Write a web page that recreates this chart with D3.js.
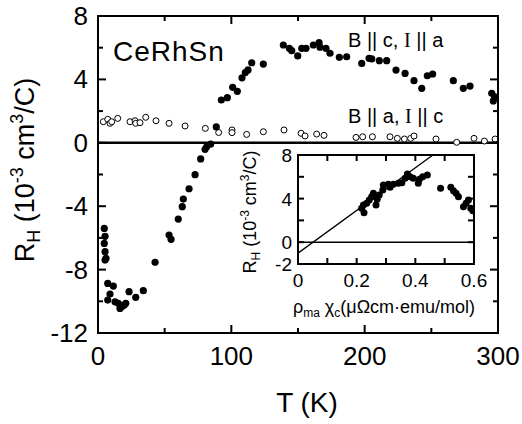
<!DOCTYPE html>
<html>
<head>
<meta charset="utf-8">
<script src="https://cdn.jsdelivr.net/npm/d3@7"></script>
<style>
body { margin: 0; background: #fff; }
text { font-family: "Liberation Sans", Arial, sans-serif; fill: #000; }
</style>
</head>
<body>
<div class="grafico"></div>
<script>
// datos: T (K), R_H (10^-3 cm^3/C)
var bParalelC = [
  [4.7,-5.4],[5.3,-5.9],[4.7,-6.35],[5.3,-6.87],[6,-7.29],[5.3,-7.4],[7.3,-8.87],[11.5,-9.04],
  [9,-9.54],[7.3,-9.92],[12.8,-10.03],[15.2,-10.13],[16.5,-10.45],[17.8,-10.34],[19.7,-10.24],
  [20.8,-10.13],[23.3,-9.39],[28.3,-9.75],[34,-9.33],[42.8,-7.54],[53.3,-5.82],[54.8,-6.09],
  [60.2,-4.81],[63.2,-4.03],[64,-3.55],[68.3,-2.9],[72.8,-2.01],[77,-1.02],[80.3,-0.41],
  [81.5,-0.25],[84.5,-0.08],[88.7,1.0],[92.5,2.7],[97,2.85],[101,3.5],[104.5,3.25],[108,4.1],
  [110.5,4.43],[112.5,4.6],[115.3,5.05],[124,4.97],[139,6.17],[143.5,5.96],[145.3,5.81],
  [149.8,5.48],[152.8,5.96],[156,5.96],[161.5,6.17],[165.8,6.32],[166.5,6.03],[171,5.96],
  [174,5.65],[181,5.39],[186.5,5.43],[197.8,5.01],[203.3,5.33],[205.3,5.29],[211,5.18],
  [216.5,5.18],[223.5,4.59],[230.3,4.38],[237,3.92],[242.8,3.44],[247,4.23],[251,4.34],
  [266.5,3.92],[274,3.44],[279,3.58],[295.3,3.12],[296.5,2.64],[297.5,2.9]
];
var bParalelA = [
  [4,1.33],[7.3,1.48],[9,1.23],[10.3,1.33],[14.8,1.54],[24,1.33],[27.8,1.39],[28.3,1.23],
  [31.5,1.27],[35.8,1.61],[43.5,1.39],[53.3,1.23],[65.3,1.06],[80.5,0.91],[90.5,0.65],
  [100.5,0.81],[100.5,0.64],[111.5,0.53],[124,0.7],[139.5,0.81],[152.3,0.6],[155.3,0.43],
  [164,0.55],[169.5,0.47],[193.5,0.34],[198.5,0.38],[205.8,0.38],[219,0.38],[224.5,0.28],
  [229.8,0.24],[234.5,0.28],[237,0.43],[253.5,0.24],[269,0.03],[282,0.28],[289.8,0.11],[297.8,0.24]
];
// inset: rho_ma * chi_c vs R_H
var inset = [
  [0.217,3.11],[0.223,3.41],[0.225,2.71],[0.234,3.57],[0.243,3.87],[0.251,4.18],[0.257,4.49],
  [0.266,3.41],[0.270,3.93],[0.277,4.33],[0.289,4.79],[0.291,5.25],[0.308,5.31],[0.314,5.04],
  [0.325,5.31],[0.342,5.40],[0.354,5.46],[0.365,5.86],[0.373,6.26],[0.382,6.01],[0.393,5.86],
  [0.410,5.40],[0.414,5.77],[0.425,6.01],[0.441,6.17],[0.486,4.94],[0.521,5.04],[0.530,4.73],
  [0.539,4.49],[0.547,4.18],[0.564,3.26],[0.573,3.57],[0.581,3.87],[0.589,3.11],[0.596,2.89]
];
var ajuste = [[0,-1.0],[0.46,8]];

var xTicks = [0,100,200,300], xMinor = [50,150,250];
var yTicks = [-12,-8,-4,0,4,8], yMinor = [-10,-6,-2,2,6];
var ixTicks = [0,0.2,0.4,0.6], ixMinor = [0.1,0.3,0.5];
var iyLabels = [-2,0,4,8], iyTicks = [0,4,8], iyMinor = [2,6];

var w = 522, h = 424;
var svg = d3.select(".grafico")
  .append("svg")
  .attr("width", w)
  .attr("height", h)
  .style("background","#fff");

var x = d3.scaleLinear().domain([0,300]).range([98,498]);
var y = d3.scaleLinear().domain([-12,8]).range([333,16]);

function ejes(g, sx, sy, mayX, menX, mayY, menY, largo, corto) {
  var x0 = sx.range()[0], x1 = sx.range()[1], y0 = sy.range()[0], y1 = sy.range()[1];
  mayX.forEach(function(v){
    g.append("line").attr("x1",sx(v)).attr("x2",sx(v)).attr("y1",y0).attr("y2",y0-largo);
    g.append("line").attr("x1",sx(v)).attr("x2",sx(v)).attr("y1",y1).attr("y2",y1+largo);
  });
  menX.forEach(function(v){
    g.append("line").attr("x1",sx(v)).attr("x2",sx(v)).attr("y1",y0).attr("y2",y0-corto);
    g.append("line").attr("x1",sx(v)).attr("x2",sx(v)).attr("y1",y1).attr("y2",y1+corto);
  });
  mayY.forEach(function(v){
    g.append("line").attr("y1",sy(v)).attr("y2",sy(v)).attr("x1",x0).attr("x2",x0+largo);
    g.append("line").attr("y1",sy(v)).attr("y2",sy(v)).attr("x1",x1).attr("x2",x1-largo);
  });
  menY.forEach(function(v){
    g.append("line").attr("y1",sy(v)).attr("y2",sy(v)).attr("x1",x0).attr("x2",x0+corto);
    g.append("line").attr("y1",sy(v)).attr("y2",sy(v)).attr("x1",x1).attr("x2",x1-corto);
  });
  g.selectAll("line").attr("stroke","#000").attr("stroke-width",2);
  g.append("rect")
    .attr("x",x0).attr("y",y1).attr("width",x1-x0).attr("height",y0-y1)
    .attr("fill","none").attr("stroke","#000").attr("stroke-width",2);
}

// grafico principal
var gm = svg.append("g");
gm.append("line")
  .attr("x1",x(0)).attr("x2",x(300)).attr("y1",y(0)).attr("y2",y(0))
  .attr("stroke","#000").attr("stroke-width",2.5);
gm.selectAll("circle.abierto")
  .data(bParalelA).enter().append("circle")
  .attr("class","abierto")
  .attr("cx", function(d){ return x(d[0]); })
  .attr("cy", function(d){ return y(d[1]); })
  .attr("r", 3)
  .attr("fill","#fff").attr("stroke","#000").attr("stroke-width",1);
gm.selectAll("circle.lleno")
  .data(bParalelC).enter().append("circle")
  .attr("class","lleno")
  .attr("cx", function(d){ return x(d[0]); })
  .attr("cy", function(d){ return y(d[1]); })
  .attr("r", 3.6)
  .attr("fill","#000");
ejes(gm.append("g"), x, y, xTicks, xMinor, yTicks, yMinor, 8, 5);

svg.append("g").selectAll("text")
  .data(xTicks).enter().append("text")
  .attr("x", function(d){ return x(d); })
  .attr("y", 365)
  .attr("text-anchor","middle")
  .attr("font-size", 26)
  .text(function(d){ return d; });
svg.append("g").selectAll("text")
  .data(yTicks).enter().append("text")
  .attr("x", 88)
  .attr("y", function(d){ return y(d) + 9; })
  .attr("text-anchor","end")
  .attr("font-size", 26)
  .text(function(d){ return d; });

svg.append("text")
  .attr("x", 307).attr("y", 412)
  .attr("text-anchor","middle")
  .attr("font-size", 28)
  .text("T (K)");

var yl = svg.append("text")
  .attr("transform","translate(34,170) rotate(-90)")
  .attr("text-anchor","middle")
  .attr("font-size", 27);
yl.append("tspan").text("R");
yl.append("tspan").attr("dy",6).attr("font-size",18).text("H");
yl.append("tspan").attr("dy",-6).text(" (10");
yl.append("tspan").attr("dy",-11).attr("font-size",18).text("-3");
yl.append("tspan").attr("dy",11).text(" cm");
yl.append("tspan").attr("dy",-11).attr("font-size",18).text("3");
yl.append("tspan").attr("dy",11).text("/C)");

svg.append("text")
  .attr("x",113).attr("y",61)
  .attr("font-size",28)
  .attr("letter-spacing",1)
  .text("CeRhSn");

function leyenda(yy, a, b) {
  var t = svg.append("text").attr("x",348).attr("y",yy).attr("font-size",20);
  t.append("tspan").text("B || " + a + ", ");
  t.append("tspan").attr("font-family","Liberation Serif").text("I");
  t.append("tspan").text(" || " + b);
}
leyenda(47, "c", "a");
leyenda(123, "a", "c");

// inset
var ix = d3.scaleLinear().domain([0,0.6]).range([298,474]);
var iy = d3.scaleLinear().domain([-2,8]).range([264,155]);

var gi = svg.append("g");
gi.append("rect")
  .attr("x",298).attr("y",155).attr("width",176).attr("height",109)
  .attr("fill","#fff");
svg.append("clipPath").attr("id","recorte")
  .append("rect").attr("x",298).attr("y",155).attr("width",176).attr("height",109);
var gc = gi.append("g").attr("clip-path","url(#recorte)");
gc.append("line")
  .attr("x1",ix(0)).attr("x2",ix(0.6)).attr("y1",iy(0)).attr("y2",iy(0))
  .attr("stroke","#000").attr("stroke-width",1.5);
gc.append("line")
  .attr("x1",ix(ajuste[0][0])).attr("y1",iy(ajuste[0][1]))
  .attr("x2",ix(ajuste[1][0])).attr("y2",iy(ajuste[1][1]))
  .attr("stroke","#000").attr("stroke-width",1.3);
gc.selectAll("circle")
  .data(inset).enter().append("circle")
  .attr("cx", function(d){ return ix(d[0]); })
  .attr("cy", function(d){ return iy(d[1]); })
  .attr("r", 3.5)
  .attr("fill","#000");
ejes(gi.append("g"), ix, iy, ixTicks, ixMinor, iyTicks, iyMinor, 6, 6);

svg.append("g").selectAll("text")
  .data(ixTicks).enter().append("text")
  .attr("x", function(d){ return ix(d); })
  .attr("y", 287)
  .attr("text-anchor","middle")
  .attr("font-size", 19)
  .text(function(d){ return d; });
svg.append("g").selectAll("text")
  .data(iyLabels).enter().append("text")
  .attr("x", 292)
  .attr("y", function(d){ return iy(d) + 7; })
  .attr("text-anchor","end")
  .attr("font-size", 19)
  .text(function(d){ return d; });

var il = svg.append("text")
  .attr("transform","translate(256,212) rotate(-90)")
  .attr("text-anchor","middle")
  .attr("font-size", 18);
il.append("tspan").text("R");
il.append("tspan").attr("dy",4).attr("font-size",12).text("H");
il.append("tspan").attr("dy",-4).text(" (10");
il.append("tspan").attr("dy",-7).attr("font-size",12).text("-3");
il.append("tspan").attr("dy",7).text(" cm");
il.append("tspan").attr("dy",-7).attr("font-size",12).text("3");
il.append("tspan").attr("dy",7).text("/C)");

var xl = svg.append("text")
  .attr("x", 384).attr("y", 313)
  .attr("text-anchor","middle")
  .attr("font-size", 18);
xl.append("tspan").text("ρ");
xl.append("tspan").attr("dy",4).attr("font-size",12).text("ma");
xl.append("tspan").attr("dy",-4).text(" χ");
xl.append("tspan").attr("dy",4).attr("font-size",12).text("c");
xl.append("tspan").attr("dy",-4).text("(μΩcm·emu/mol)");
</script>
</body>
</html>
